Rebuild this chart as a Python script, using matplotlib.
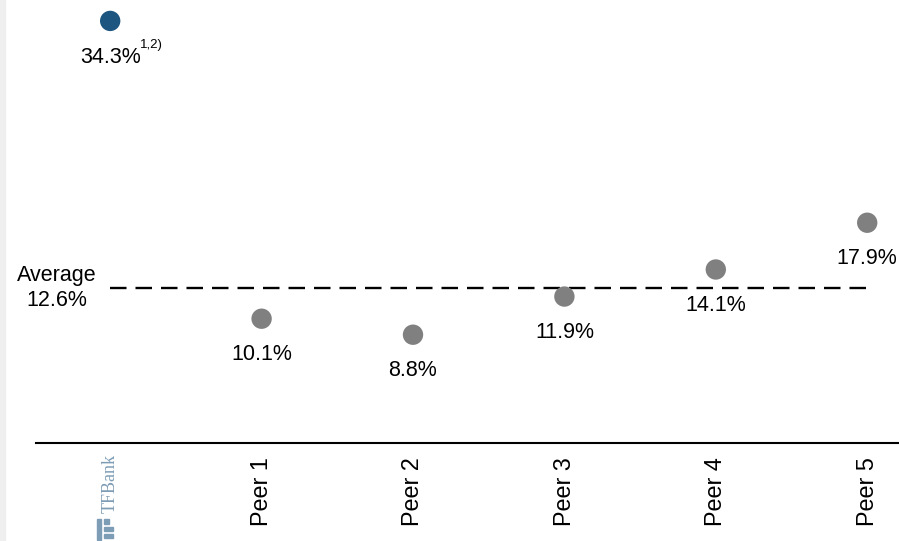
import matplotlib
matplotlib.use("Agg")
import matplotlib.pyplot as plt
from matplotlib.patches import Rectangle

plt.rcParams['font.family'] = ['Liberation Sans', 'DejaVu Sans']

# return on equity by bank, in percent
banks = ["TFBank", "Peer 1", "Peer 2", "Peer 3", "Peer 4", "Peer 5"]
roe = [34.3, 10.1, 8.8, 11.9, 14.1, 17.9]
labels = ["34.3%", "10.1%", "8.8%", "11.9%", "14.1%", "17.9%"]
average = 12.6
average_label = "Average\n12.6%"

dot_colors = ["#1b5580"] + ["#808080"] * 5
logo_color = "#7d9cb5"
fs = 15.5

fig = plt.figure(figsize=(8.99, 5.41), dpi=100)
ax = fig.add_axes([36 / 899, 98 / 541, 1 - 36 / 899, 443 / 541])

x = list(range(len(banks)))
ax.scatter(x, roe, s=215, color=dot_colors, zorder=3, linewidths=0)

# value labels under each dot
for xi, yi, lab in zip(x, roe, labels):
    ax.annotate(lab, (xi, yi), xytext=(0, -26), textcoords="offset points",
                ha="center", va="center", fontsize=fs)

# footnote marker on the first value
ax.annotate("1,2)", (x[0], roe[0]), xytext=(21.5, -17.5), textcoords="offset points",
            ha="left", va="center", fontsize=9.5)

ax.plot([x[0], x[-1]], [average, average], color="black", lw=1.7,
        dashes=(6.99, 3.81), zorder=2)
ax.text(-0.353, average, average_label, ha="center", va="center",
        fontsize=fs, linespacing=1.2)

ax.set_xlim(-0.49, 5.21)
ax.set_ylim(0, 36)
for side in ["top", "right", "left"]:
    ax.spines[side].set_visible(False)
ax.spines["bottom"].set_linewidth(1.5)
ax.set_yticks([])
ax.set_xticks(x[1:])
ax.set_xticklabels(banks[1:], rotation=90, fontsize=16.8, va="top")
ax.tick_params(axis="x", length=0, pad=10)

# bank logo in place of the first tick label
ax.annotate(banks[0], (x[0], 0), xytext=(0, -8), textcoords="offset points",
            rotation=90, ha="center", va="top", fontsize=13,
            family="Liberation Serif", color=logo_color)
for x0, y0, w, h in [(97, 519, 4, 21), (104, 519, 5, 5), (104, 527, 9, 4),
                     (104, 534, 9, 4)]:
    fig.patches.append(Rectangle((x0 / 899, 1 - (y0 + h) / 541), w / 899, h / 541,
                                 transform=fig.transFigure, color=logo_color))

# light strip along the left edge
fig.patches.append(Rectangle((0, 0), 5 / 899, 1, transform=fig.transFigure,
                             color="#efefef", zorder=0))

fig.savefig("out.png", dpi=100)
